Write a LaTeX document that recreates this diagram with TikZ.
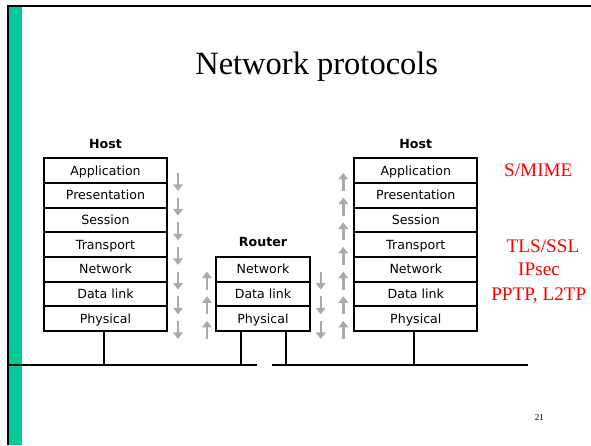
\documentclass[tikz,border=0pt]{standalone}
\usepackage{fontspec}
\setmainfont{Liberation Serif}
\newfontfamily\laysf{DejaVu Sans}
\usetikzlibrary{arrows.meta}
\definecolor{slidegreen}{RGB}{0,204,153}
\definecolor{arrowgray}{RGB}{170,170,170}
\begin{document}
\begin{tikzpicture}[x=1pt,y=-1pt,
  layer/.style={draw, line width=2pt, minimum height=24.66pt, inner sep=0pt,
    text height=9.2pt, text depth=0pt, font=\laysf\fontsize{12.6}{14}\selectfont},
  hostlayer/.style={layer, minimum width=123pt},
  routerlayer/.style={layer, minimum width=94pt},
  boxlabel/.style={anchor=base, inner sep=0pt, font=\laysf\bfseries\fontsize{12.6}{14}\selectfont},
  proto/.style={anchor=base, inner sep=0pt, text=red, font=\fontsize{19.2}{22}\selectfont},
  flow/.style={draw=arrowgray, line width=2.4pt, -{Triangle[width=9.5pt,length=6.5pt]}},
  wire/.style={draw=black, line width=2pt}]
\useasboundingbox (0,0) rectangle (591,445);
% slide frame
\fill[slidegreen] (9,7) rectangle (22,445);
\draw[line width=2.3pt] (7.8,6) -- (7.8,445);
\draw[line width=2.7pt] (6.6,6) -- (591,6);
% title and page number
\node[anchor=base, inner sep=0pt, font=\fontsize{32.5}{36}\selectfont] (title) at (316.7,74.3) {Network protocols};
\node[anchor=base, inner sep=0pt, font=\fontsize{9}{10}\selectfont] (pnum) at (539.4,420) {21};
% left host
\node[boxlabel] (hostL) at (105.5,148.3) {Host};
\node[hostlayer] (La) at (105.5,170.63) {Application};
\node[hostlayer] (Lb) at (105.5,195.29) {Presentation};
\node[hostlayer] (Lc) at (105.5,219.95) {Session};
\node[hostlayer] (Ld) at (105.5,244.61) {Transport};
\node[hostlayer] (Le) at (105.5,269.27) {Network};
\node[hostlayer] (Lf) at (105.5,293.93) {Data link};
\node[hostlayer] (Lg) at (105.5,318.59) {Physical};
% router
\node[boxlabel] (router) at (263,246.7) {Router};
\node[routerlayer] (Re) at (263,269.27) {Network};
\node[routerlayer] (Rf) at (263,293.93) {Data link};
\node[routerlayer] (Rg) at (263,318.59) {Physical};
% right host
\node[boxlabel] (hostR) at (415.8,148.3) {Host};
\node[hostlayer] (Ha) at (415.8,170.63) {Application};
\node[hostlayer] (Hb) at (415.8,195.29) {Presentation};
\node[hostlayer] (Hc) at (415.8,219.95) {Session};
\node[hostlayer] (Hd) at (415.8,244.61) {Transport};
\node[hostlayer] (He) at (415.8,269.27) {Network};
\node[hostlayer] (Hf) at (415.8,293.93) {Data link};
\node[hostlayer] (Hg) at (415.8,318.59) {Physical};
% protocol labels
\node[proto] (smime) at (538.3,176.7) {S/MIME};
\node[proto] (tls) at (543,252.7) {TLS/SSL};
\node[proto] (ipsec) at (539,275) {IPsec};
\node[proto] (pptp) at (538.8,300.5) {PPTP, L2TP};
% buses
\coordinate (busL0) at (8,365);
\coordinate (busL1) at (257,365);
\coordinate (busR0) at (271.7,365);
\coordinate (busR1) at (528,365);
\draw[wire] (busL0) -- (busL1);
\draw[wire] (busR0) -- (busR1);
\draw[wire] ([xshift=-1.5pt]Lg.south) -- ([xshift=-1.5pt]Lg.south |- busL1);
\draw[wire] ([xshift=-22pt]Rg.south) -- ([xshift=-22pt]Rg.south |- busL1);
\draw[wire] ([xshift=23pt]Rg.south) -- ([xshift=23pt]Rg.south |- busR0);
\draw[wire] ([xshift=-1.8pt]Hg.south) -- ([xshift=-1.8pt]Hg.south |- busR0);
% flow arrows
\foreach \k in {1,...,7}{
  \pgfmathsetmacro{\b}{158.3+24.66*\k}
  \draw[flow] (178,\b-10) -- (178,\b+8);
  \draw[flow] (343.3,\b+8) -- (343.3,\b-10);
}
\foreach \k in {5,6,7}{
  \pgfmathsetmacro{\b}{158.3+24.66*\k}
  \draw[flow] (207,\b+8) -- (207,\b-10);
  \draw[flow] (320.7,\b-10) -- (320.7,\b+8);
}
\end{tikzpicture}
\end{document}
